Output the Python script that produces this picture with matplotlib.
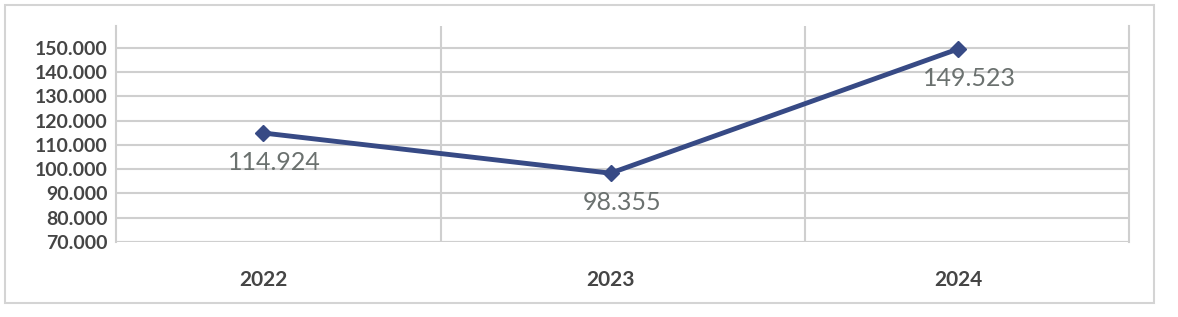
import numpy as np
import matplotlib
matplotlib.use("Agg")
import matplotlib.pyplot as plt
from matplotlib.patches import Rectangle

years = ['2022', '2023', '2024']
values = [114924, 98355, 149523]
value_labels = ['114.924', '98.355', '149.523']
ytick_vals = [70000, 80000, 90000, 100000, 110000, 120000, 130000, 140000, 150000]
ytick_labels = ['70.000', '80.000', '90.000', '100.000', '110.000', '120.000',
                '130.000', '140.000', '150.000']

plt.rcParams['font.family'] = ['Lato', 'DejaVu Sans']

W, H = 1178, 317
fig = plt.figure(figsize=(W / 100, H / 100), dpi=100, facecolor='white')
# outer chart frame
fig.patches.append(Rectangle((5 / W, 1 - 303 / H), 1149 / W, 298 / H,
                             transform=fig.transFigure, fill=False,
                             edgecolor='#d4d4d4', linewidth=1.5))

ax = fig.add_axes([116 / W, 1 - 242 / H, (1129 - 116) / W, (242 - 26) / H])
x = np.arange(len(years))
step = 347.5
ax.set_xlim(-147 / step, 2 + 171 / step)
ax.set_ylim(70000, 159000)

ax.set_yticks(ytick_vals)
ax.set_yticklabels(ytick_labels)
ax.set_xticks(x)
ax.set_xticklabels(years)
ax.tick_params(axis='y', length=0, pad=6, labelsize=14, labelcolor='#454545')
ax.tick_params(axis='x', length=0, pad=20, labelsize=15, labelcolor='#454545')
for lab in ax.get_xticklabels() + ax.get_yticklabels():
    lab.set_fontweight('bold')

for s in ['top', 'bottom']:
    ax.spines[s].set_visible(False)
ax.spines['left'].set_color('#cfcfcf')
ax.spines['right'].set_color('#cfcfcf')
ax.spines['left'].set_linewidth(1.5)
ax.spines['right'].set_linewidth(1.5)

ax.grid(axis='y', color='#cfcfcf', linewidth=1.5)
ax.axhline(70000, color='#cfcfcf', linewidth=1.5, zorder=1)
for gx in [(441 - 263) / step, (805 - 263) / step]:
    ax.axvline(gx, color='#cfcfcf', linewidth=1.5, zorder=1)
ax.set_axisbelow(True)

ax.plot(x, values, color='#374a85', linewidth=3.5, marker='D',
        markersize=8.5, zorder=3)
for xi, v, t in zip(x, values, value_labels):
    ax.annotate(t, (xi, v), xytext=(8, -13), textcoords='offset points',
                ha='center', va='top', fontsize=18, color='#6b716f')

fig.savefig('out.png', dpi=100, facecolor='white')
